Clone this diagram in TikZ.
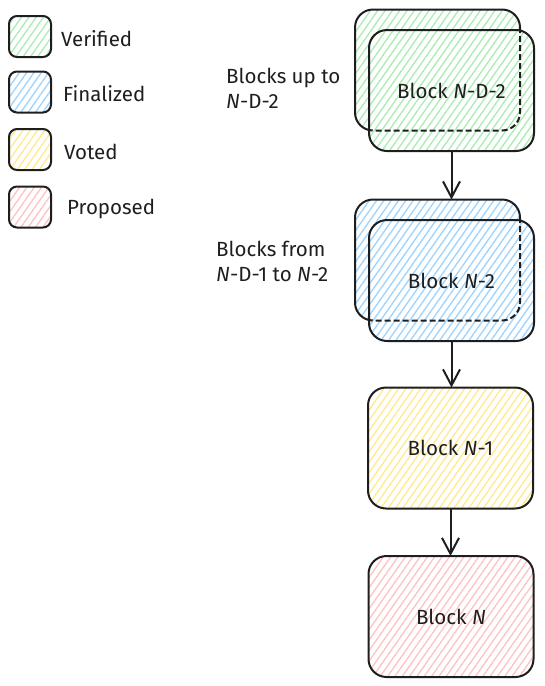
\documentclass[tikz,border=0pt]{standalone}
\usepackage{fontspec}
\setmainfont{Fira Sans}
\usetikzlibrary{positioning,patterns.meta,arrows.meta}
\definecolor{ink}{HTML}{1E1E1E}
\definecolor{vergreen}{HTML}{A8EDB2}
\definecolor{finblue}{HTML}{9CD3FF}
\definecolor{votyellow}{HTML}{FFE98A}
\definecolor{proppink}{HTML}{FFC2C2}
\tikzstyle{blk}=[draw=ink, line width=2pt, rounded corners=18pt, minimum width=165pt, minimum height=121pt, inner sep=0pt, outer sep=0pt, text=ink]
\tikzstyle{key}=[draw=ink, line width=2pt, rounded corners=8pt, minimum width=42pt, minimum height=41pt, inner sep=0pt, outer sep=0pt]
\tikzstyle{hatch}=[pattern={Lines[angle=55,distance=6pt,line width=1.3pt]}]
\tikzstyle{lbl}=[inner sep=0pt, text=ink, align=left]
\tikzstyle{hidden}=[draw=ink, line width=2pt, rounded corners=18pt, dash pattern=on 6pt off 3pt]

\begin{document}
\begin{tikzpicture}[x=1pt,y=-1pt,>={Straight Barb[length=16pt,width=17pt]},font=\fontsize{20.5}{25}\selectfont]
\useasboundingbox (0,0) rectangle (544,686);

% legend
\node[key, hatch, pattern color=vergreen] (kver) at (30,36.5) {};
\node[lbl, right = 10pt of kver, yshift=-2pt] (tver) {Verified};
\node[key, hatch, pattern color=finblue] (kfin) at (30,92) {};
\node[lbl, right = 12pt of kfin, yshift=-2pt] (tfin) {Finalized};
\node[key, hatch, pattern color=votyellow] (kvot) at (30,149.5) {};
\node[lbl, right = 13pt of kvot, yshift=-2pt] (tvot) {Voted};
\node[key, hatch, pattern color=proppink] (kpro) at (30,207) {};
\node[lbl, right = 16pt of kpro, yshift=-2pt] (tpro) {Proposed};

% verified blocks
\node[blk, hatch, pattern color=vergreen] (gback) at (437.5,70) {};
\node[blk, draw=none, hatch, pattern color=vergreen, preaction={fill=white}] (gfront) at (451.5,90.5) {Block \textit{N}-D-2};
\begin{scope}
\clip[rounded corners=18pt] (gfront.south west) rectangle (gfront.north east);
\path[hidden] (gback.south west) rectangle (gback.north east);
\end{scope}
\draw[draw=ink, line width=2pt, rounded corners=18pt] (gfront.south west) rectangle (gfront.north east);
\node[lbl] (tgrp) at (226,88) [anchor=west] {Blocks up to\\\textit{N}-D-2};

% finalized blocks
\node[blk, hatch, pattern color=finblue] (bback) at (437.5,260) {};
\node[blk, draw=none, hatch, pattern color=finblue, preaction={fill=white}] (bfront) at (451.5,280.5) {Block \textit{N}-2};
\begin{scope}
\clip[rounded corners=18pt] (bfront.south west) rectangle (bfront.north east);
\path[hidden] (bback.south west) rectangle (bback.north east);
\end{scope}
\draw[draw=ink, line width=2pt, rounded corners=18pt] (bfront.south west) rectangle (bfront.north east);
\node[lbl] (bgrp) at (216,261) [anchor=west] {Blocks from\\\textit{N}-D-1 to \textit{N}-2};

% voted and proposed
\node[blk, hatch, pattern color=votyellow] (vblk) at (450.5,448) {Block \textit{N}-1};
\node[blk, hatch, pattern color=proppink] (pblk) at (451,616.5) {Block \textit{N}};

\draw[->, draw=ink, line width=2pt] (gfront.south) -- (gfront.south |- bback.north);
\draw[->, draw=ink, line width=2pt] (bfront.south) -- (bfront.south |- vblk.north);
\draw[->, draw=ink, line width=2pt] (vblk.south) -- (vblk.south |- pblk.north);
\end{tikzpicture}
\end{document}
